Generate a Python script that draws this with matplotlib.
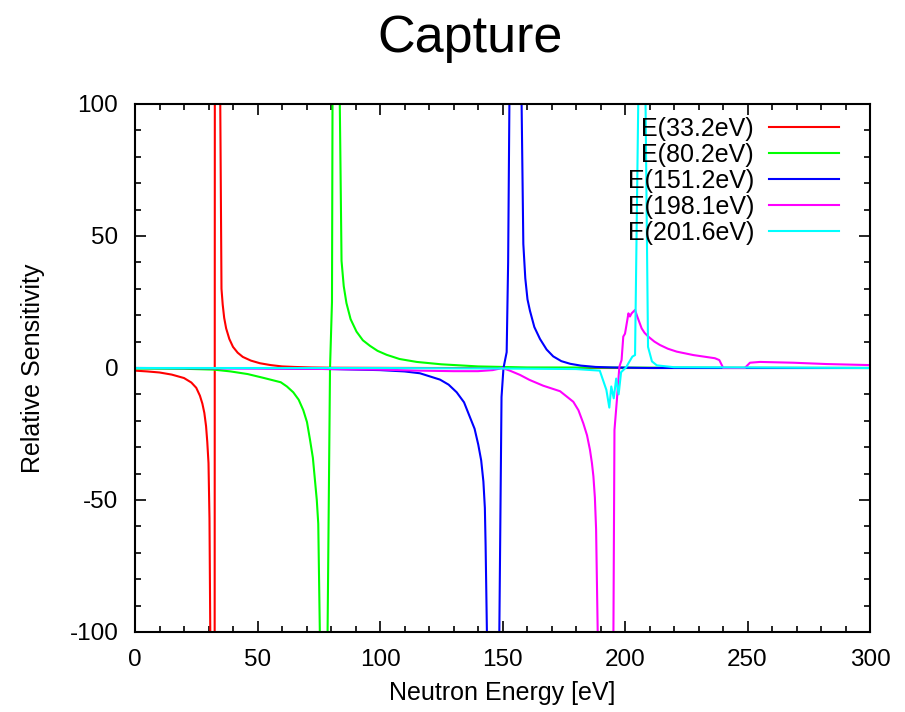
import matplotlib
matplotlib.use("Agg")
import matplotlib.pyplot as plt
from matplotlib.ticker import MultipleLocator

# sensitivity curves (energy in eV, value)
red_e = [0, 5, 10, 15, 20, 23, 25, 26.5, 27.5, 28.3, 29, 29.5, 30, 30.4, 30.8, 31.9, 33.2,
         34.3, 35.3, 35.8, 36.4, 37.2, 38.5, 40, 41.9, 44, 47.3, 51, 55.4, 60, 65, 72, 80,
         120, 300]
red_y = [-1.0, -1.3, -1.7, -2.5, -3.8, -5.5, -7.5, -10.5, -13.5, -17, -22, -28, -36, -57, -110,
         -2000, 2000, 170, 30, 24, 19, 15, 11, 8, 5.8, 4.2, 2.8, 1.8, 1.1, 0.6, 0.4, 0.2,
         0.1, 0.0, 0.0]

green_e = [0, 20, 32, 39, 46, 52.7, 59.5, 62, 64.6, 66.8, 68.7, 70.2, 71.4, 72.6, 73.5,
           74.2, 74.8, 75.6, 77.8, 79.6, 80.4, 81.2, 84.3, 85.2, 86.3, 88, 90.4, 93, 95.9,
           99, 102.7, 108, 115, 125, 140, 160, 300]
green_y = [-0.2, -0.3, -0.6, -1.3, -2.3, -3.8, -5.4, -7, -9.2, -12, -16, -20.5, -27, -34, -43,
           -50, -59, -110, -180, 0, 25, 300, 40.6, 31, 24.6, 18.5, 13.8, 10.5, 8.4,
           6.5, 5.0, 3.4, 2.3, 1.4, 0.6, 0.2, 0.0]

blue_e = [0, 50, 80, 100, 110, 116.3, 124.5, 128, 131.3, 134.3, 136.7, 138.6, 140.1, 141.3,
          142.2, 142.8, 143.1, 143.8, 148.2, 149.6, 150.4, 151.7, 152.3, 152.9, 157.0,
          158.5, 159.3, 160.2, 161.2, 163, 165.3, 168, 170.7, 174, 177.6, 182, 188, 195,
          210, 300]
blue_y = [0, -0.1, -0.4, -0.8, -1.3, -2, -4.4, -6.3, -9.2, -13, -18.6, -23, -29, -35,
          -43, -53, -67, -110, -150, -11, 0, 6, 40, 110, 160,
          47, 34, 26, 21.7, 15.5, 11, 7, 4.4, 2.6, 1.6, 0.9, 0.4, 0.2,
          0.0, 0.0]

magenta_e = [0, 60, 100, 116, 130, 140, 146, 150, 153, 157.1, 161, 166.6, 173.5, 178.9,
             181, 183, 184.5, 185.7, 186.5, 187.1, 187.7, 188.2, 189.2, 192.5, 195.7,
             196.7, 197.7, 198.6, 199.3, 200.0, 201.4, 202.0, 202.7, 204.1, 205.0, 206.8,
             208, 209.5, 212, 214.3, 217.5, 221.1, 227.9, 236.7, 238.5, 240.1, 248.9,
             251.0, 255.1, 268.7, 282.3, 300]
magenta_y = [0.0, -0.2, -0.6, -1.0, -1.2, -1.2, -0.8, 0.0, -1.0, -2.6, -4.5, -6.7, -8.8, -12.8,
             -16, -21, -25.5, -31, -36, -41, -49, -61, -120, -600, -23.5,
             -12, 0.5, 3, 11.9, 13, 20.7, 19.5, 20.7, 22, 19.5, 15,
             13.3, 11.9, 10, 8.7, 7.3, 6.2, 4.9, 3.7, 3.0, 0.0, 0.0,
             2.0, 2.3, 2.0, 1.5, 1.1]

cyan_e = [0, 50, 100, 150, 180, 189.7, 192.4, 193.6, 194.4, 195.4, 196.4, 197.4, 198.4,
          200.5, 201.4, 203.0, 204.1, 206.5, 207.5, 209.4, 211.0, 213.0, 220, 300]
cyan_y = [0, 0, 0, -0.2, -0.4, -1, -8.3, -15, -7, -11.5, -4, -10, -1.6,
          0.3, 1.8, 4.3, 4.9, 180, 180, 8, 2.5, 1.0, 0.3, 0.0]

labels = ["E(33.2eV)", "E(80.2eV)", "E(151.2eV)", "E(198.1eV)", "E(201.6eV)"]
colors = ["#ff0000", "#00ff00", "#0000ff", "#ff00ff", "#00ffff"]

x_ticks = [0, 50, 100, 150, 200, 250, 300]
y_ticks = [-100, -50, 0, 50, 100]

plt.rcParams['font.family'] = ['Liberation Sans', 'DejaVu Sans']
plt.rcParams['axes.unicode_minus'] = False


def main():
    fig = plt.figure(figsize=(9.05, 7.12), dpi=100)
    ax = fig.add_axes([135 / 905, 1 - 632 / 712, 735 / 905, 528 / 712])

    series = [(red_e, red_y), (green_e, green_y), (blue_e, blue_y),
              (magenta_e, magenta_y), (cyan_e, cyan_y)]
    for (e, y), c, lab in zip(series, colors, labels):
        ax.plot(e, y, color=c, lw=1.5, label=lab)

    ax.set_xlim(0, 300)
    ax.set_ylim(-100, 100)
    ax.set_xticks(x_ticks)
    ax.set_yticks(y_ticks)
    ax.xaxis.set_minor_locator(MultipleLocator(10))
    ax.yaxis.set_minor_locator(MultipleLocator(10))
    ax.tick_params(which='both', direction='in', top=True, right=True,
                   labelsize=17.5, width=1.2)
    ax.tick_params(which='major', length=8, pad=12)
    ax.tick_params(which='minor', length=4)
    for s in ax.spines.values():
        s.set_linewidth(1.5)

    # gnuplot style key: text first, sample after
    ax.legend(loc='upper right', bbox_to_anchor=(839 / 905, 1 - 117 / 712),
              bbox_transform=fig.transFigure, frameon=False, markerfirst=False,
              fontsize=18, handlelength=2.8, handletextpad=0.6,
              labelspacing=0.08, borderpad=0, borderaxespad=0)

    fig.text(470 / 905, 1 - 52 / 712, "Capture", ha='center', va='baseline', fontsize=37.5)
    fig.text(502 / 905, 1 - 693 / 712, "Neutron Energy [eV]", ha='center', va='center',
             fontsize=18)
    fig.text(33 / 905, 1 - 368 / 712, "Relative Sensitivity", ha='center', va='center',
             rotation=90, fontsize=18)

    fig.savefig("out.png", dpi=100)


if __name__ == "__main__":
    main()
